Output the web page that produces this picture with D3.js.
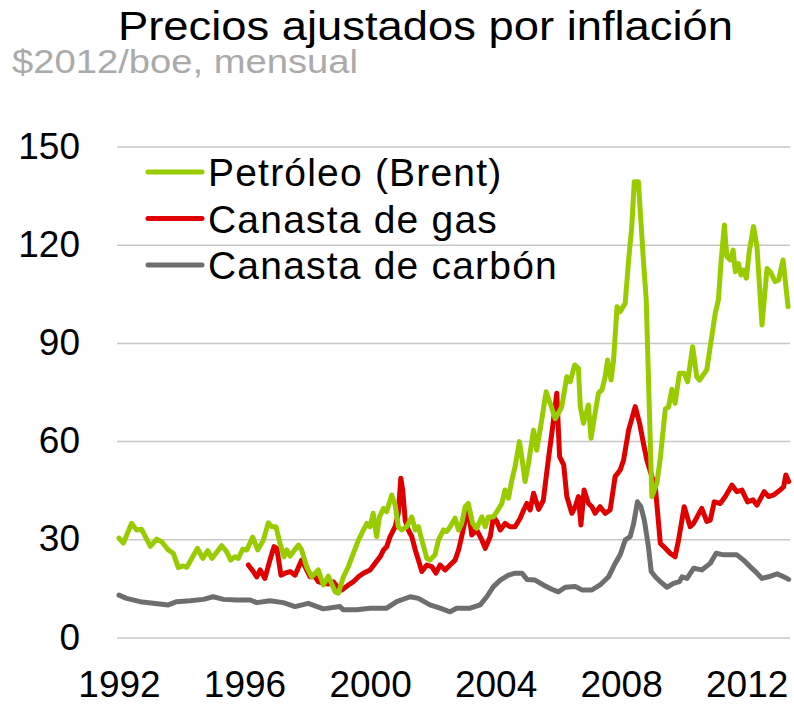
<!DOCTYPE html>
<html>
<head>
<meta charset="utf-8">
<script src="https://cdn.jsdelivr.net/npm/d3@7"></script>
<style>
  body { margin: 0; background: #fff; }
  svg text { font-family: "Liberation Sans", Arial, sans-serif; }
</style>
</head>
<body>
<svg id="chart" width="794" height="705"></svg>
<script>
// monthly series as [year, $2012/boe]
const brent = [
  [1992.0,30.5],[1992.14,29],[1992.4,35],[1992.56,33],[1992.72,33.2],[1993.0,28],[1993.2,30.2],[1993.36,29.4],
  [1993.57,26.9],[1993.73,25.9],[1993.89,21.5],[1994.05,22],[1994.16,21.6],[1994.5,27.4],[1994.67,24.3],
  [1994.83,26.7],[1994.96,24.3],[1995.13,26.4],[1995.27,28.2],[1995.43,26.4],[1995.56,23.8],[1995.7,24.8],
  [1995.8,24.3],[1995.94,27.1],[1996.07,26.9],[1996.26,30.8],[1996.42,26.9],[1996.6,29.9],[1996.76,35.2],
  [1996.87,34],[1997.0,34],[1997.13,28.9],[1997.26,24.8],[1997.35,26.9],[1997.45,25],[1997.58,26.7],
  [1997.72,28.4],[1997.82,26.9],[1997.98,21.8],[1998.14,18.7],[1998.35,20.8],[1998.51,16.2],[1998.67,18.9],
  [1998.89,14.1],[1998.99,13.7],[1999.15,18.7],[1999.31,21.8],[1999.47,25.9],[1999.63,29.9],[1999.79,33],
  [1999.9,35],[2000.0,34],[2000.1,38.1],[2000.21,31],[2000.3,37],[2000.43,39.6],[2000.53,38.6],[2000.69,43.7],
  [2000.8,40.6],[2000.9,34],[2001.01,33],[2001.17,34],[2001.33,37],[2001.44,33],[2001.54,34],[2001.65,29.9],
  [2001.81,24.3],[2001.91,23.8],[2002.07,25.4],[2002.18,29.9],[2002.34,33],[2002.44,32.5],[2002.55,34],
  [2002.71,36.6],[2002.82,33],[2002.92,35],[2003.03,40.1],[2003.13,41.1],[2003.27,35],[2003.4,33.5],
  [2003.56,37],[2003.67,34],[2003.77,37],[2003.93,37],[2004.04,38.6],[2004.2,41.1],[2004.3,45.2],
  [2004.41,42.7],[2004.52,48.3],[2004.62,52.3],[2004.76,60],[2004.84,54.9],[2004.94,47.8],[2005.05,53.4],
  [2005.21,63.5],[2005.31,57.4],[2005.47,66.6],[2005.61,75.2],[2005.74,71.7],[2005.9,67],[2006.06,69.7],
  [2006.11,70.7],[2006.27,79.8],[2006.38,78.3],[2006.52,83.4],[2006.64,82.4],[2006.7,70.7],[2006.8,65.6],
  [2006.96,71.2],[2007.04,61],[2007.17,68.6],[2007.28,74.8],[2007.39,75.8],[2007.49,79.8],[2007.57,84.9],
  [2007.68,78.8],[2007.76,84.9],[2007.87,101.2],[2007.97,99.7],[2008.13,102.3],[2008.24,115.5],
  [2008.34,125.7],[2008.42,139.4],[2008.55,139.4],[2008.71,115.5],[2008.8,103.3],[2008.98,43.2],
  [2009.14,47.3],[2009.25,55],[2009.41,70],[2009.51,70.5],[2009.62,76],[2009.72,71.7],[2009.86,80.9],
  [2010.01,80.9],[2010.12,78.3],[2010.28,89],[2010.41,79.8],[2010.5,78.8],[2010.73,81.9],[2010.84,89],
  [2011.0,99.2],[2011.1,103.3],[2011.19,115.5],[2011.29,126.2],[2011.37,116.5],[2011.48,115.5],
  [2011.57,118.5],[2011.64,111.9],[2011.74,114.4],[2011.82,110.9],[2011.9,112.4],[2011.99,109.9],
  [2012.09,118.5],[2012.22,125.7],[2012.33,119.5],[2012.49,95.6],[2012.65,112.9],[2012.75,111.9],
  [2012.91,108.9],[2013.02,109.4],[2013.16,115.5],[2013.32,101.2]
];

const gas = [
  [1996.12,22.3],[1996.28,20.3],[1996.39,18.7],[1996.5,20.8],[1996.65,18.2],[1996.81,23.8],[1996.94,27.9],
  [1997.03,27.4],[1997.16,19.2],[1997.29,19.8],[1997.45,20.3],[1997.61,19.2],[1997.82,23.8],[1997.98,20.8],
  [1998.09,18.7],[1998.25,18.7],[1998.35,17.2],[1998.51,16.7],[1998.67,16.5],[1998.83,17.2],[1998.99,15.2],
  [1999.1,14.7],[1999.31,16.2],[1999.47,17.2],[1999.63,18.7],[1999.79,19.8],[2000.0,20.8],[2000.16,22.8],
  [2000.32,24.8],[2000.43,26.9],[2000.53,27.9],[2000.64,31],[2000.8,34],[2000.9,38.1],[2000.98,48.8],
  [2001.04,45.2],[2001.12,36],[2001.22,33],[2001.33,31],[2001.44,26.9],[2001.54,23.8],[2001.65,20.3],
  [2001.81,22.3],[2001.97,21.8],[2002.1,19.8],[2002.23,22.3],[2002.39,20.8],[2002.55,22.3],[2002.71,23.8],
  [2002.82,26.9],[2002.92,31],[2003.03,36],[2003.12,40.1],[2003.24,31.5],[2003.4,33],[2003.56,30],
  [2003.67,27.4],[2003.83,31],[2003.93,37],[2004.04,35.6],[2004.15,33],[2004.3,35],[2004.46,34],
  [2004.62,34],[2004.78,36.5],[2004.89,39],[2005.0,41.1],[2005.1,39.1],[2005.21,44.2],[2005.37,39.3],
  [2005.52,42],[2005.68,54.4],[2005.82,64.6],[2005.95,74.8],[2006.04,55.4],[2006.17,52.9],[2006.27,43.2],
  [2006.43,38.1],[2006.54,40.1],[2006.64,43.2],[2006.72,34.5],[2006.82,45.2],[2006.96,41.1],[2007.07,40.1],
  [2007.17,38.1],[2007.33,40.1],[2007.49,38.1],[2007.65,39.1],[2007.81,49.3],[2007.97,51.3],[2008.08,54.4],
  [2008.24,63.5],[2008.45,70.7],[2008.59,65.6],[2008.71,59.5],[2008.82,54.4],[2008.98,49.3],[2009.09,46.2],
  [2009.25,28.9],[2009.41,27.4],[2009.56,25.9],[2009.72,24.8],[2009.83,29.9],[2010.01,40.1],[2010.2,34],
  [2010.31,35],[2010.57,39.6],[2010.73,35.6],[2010.84,36],[2010.97,41.6],[2011.16,41.1],[2011.32,43.2],
  [2011.53,46.7],[2011.69,44.7],[2011.85,45.2],[2012.03,41.6],[2012.2,42.2],[2012.33,40.6],[2012.56,44.7],
  [2012.7,43.2],[2012.86,43.7],[2013.07,45.2],[2013.18,46.2],[2013.25,49.8],[2013.34,47.8]
];

const coal = [
  [1992.0,13.1],[1992.24,12.1],[1992.67,11.1],[1993.09,10.6],[1993.57,10.1],[1993.84,11.1],[1994.26,11.4],
  [1994.69,11.8],[1995.0,12.6],[1995.33,11.8],[1995.75,11.6],[1996.18,11.6],[1996.39,10.8],[1996.81,11.4],
  [1997.24,10.8],[1997.61,9.6],[1998.03,10.6],[1998.51,8.9],[1999.04,9.6],[1999.15,8.6],[1999.58,8.6],
  [2000.0,9.1],[2000.53,9.1],[2000.85,11.1],[2001.28,12.6],[2001.54,12.1],[2001.91,10.1],[2002.23,9.1],
  [2002.55,8.0],[2002.76,9.1],[2003.19,9.1],[2003.51,10.1],[2003.72,12.6],[2003.93,15.7],[2004.15,17.7],
  [2004.41,19.2],[2004.62,19.8],[2004.84,19.8],[2005.0,17.9],[2005.26,17.7],[2005.52,16.2],[2005.79,14.9],
  [2006.0,14.1],[2006.22,15.5],[2006.54,15.7],[2006.75,14.7],[2007.07,14.7],[2007.33,16.2],[2007.6,18.7],
  [2007.81,22.8],[2007.97,25.4],[2008.13,29.9],[2008.29,31],[2008.4,35],[2008.52,41.6],[2008.63,40.1],
  [2008.74,36],[2008.87,27.9],[2008.96,20.3],[2009.09,18.7],[2009.25,17.2],[2009.46,15.5],[2009.67,16.7],
  [2009.86,17.2],[2009.94,18.7],[2010.1,18.2],[2010.31,21.3],[2010.57,20.8],[2010.84,22.8],[2011.03,25.9],
  [2011.26,25.4],[2011.69,25.4],[2011.9,23.8],[2012.11,21.8],[2012.33,19.8],[2012.49,18.2],[2012.7,18.7],
  [2012.97,19.6],[2013.18,18.7],[2013.34,17.9]
];

const seriesNames = ["Petróleo (Brent)", "Canasta de gas", "Canasta de carbón"];
const seriesColors = ["#99cc00", "#e00000", "#6e6e6e"];
const yTicks = [0, 30, 60, 90, 120, 150];
const xTicks = [1992, 1996, 2000, 2004, 2008, 2012];

const svg = d3.select("#chart");

const x = d3.scaleLinear().domain([1992, 2013.35]).range([119, 789]);
const y = d3.scaleLinear().domain([0, 150]).range([638, 147]);

// title + subtitle
svg.append("text")
   .attr("x", 118).attr("y", 40)
   .attr("font-size", 40)
   .attr("textLength", 615).attr("lengthAdjust", "spacingAndGlyphs")
   .attr("fill", "#000")
   .text("Precios ajustados por inflación");
svg.append("text")
   .attr("x", 12).attr("y", 73)
   .attr("font-size", 34)
   .attr("textLength", 346).attr("lengthAdjust", "spacingAndGlyphs")
   .attr("fill", "#aaaaaa")
   .text("$2012/boe, mensual");

// gridlines
svg.append("g")
   .selectAll("line")
   .data(yTicks)
   .join("line")
   .attr("x1", 117).attr("x2", 790)
   .attr("y1", d => y(d)).attr("y2", d => y(d))
   .attr("stroke", "#c8c8c8")
   .attr("stroke-width", 1.5);

// axes
const yAxis = svg.append("g")
   .attr("transform", "translate(80,0)")
   .call(d3.axisLeft(y).tickValues(yTicks).tickSize(0).tickPadding(0));
yAxis.select(".domain").remove();
yAxis.selectAll("text")
   .attr("font-size", 37).attr("font-family", "Liberation Sans, Arial, sans-serif")
   .attr("fill", "#000").attr("dy", "0.30em");

const xAxis = svg.append("g")
   .attr("transform", "translate(0,670)")
   .call(d3.axisBottom(x).tickValues(xTicks).tickFormat(d3.format("d")).tickSize(0).tickPadding(0));
xAxis.select(".domain").remove();
xAxis.selectAll("text")
   .attr("font-size", 37).attr("font-family", "Liberation Sans, Arial, sans-serif")
   .attr("fill", "#000").attr("dy", "0.72em");

// lines
const line = d3.line()
   .x(d => x(d[0]))
   .y(d => y(d[1]));

[coal, gas, brent].forEach((s, i) => {
  svg.append("path")
     .datum(s)
     .attr("d", line)
     .attr("fill", "none")
     .attr("stroke", seriesColors[2 - i])
     .attr("stroke-width", 5)
     .attr("stroke-linejoin", "round")
     .attr("stroke-linecap", "round");
});

// legend
const legend = svg.append("g")
   .selectAll("g")
   .data(seriesNames)
   .join("g")
   .attr("transform", (d, i) => `translate(148,${172 + i * 46.5})`);
legend.append("line")
   .attr("x1", 0).attr("x2", 54)
   .attr("stroke", (d, i) => seriesColors[i])
   .attr("stroke-width", 5)
   .attr("stroke-linecap", "round");
legend.append("text")
   .attr("x", 60).attr("dy", "0.36em")
   .attr("font-size", 39)
   .attr("letter-spacing", 1.2)
   .text(d => d);
</script>
</body>
</html>
